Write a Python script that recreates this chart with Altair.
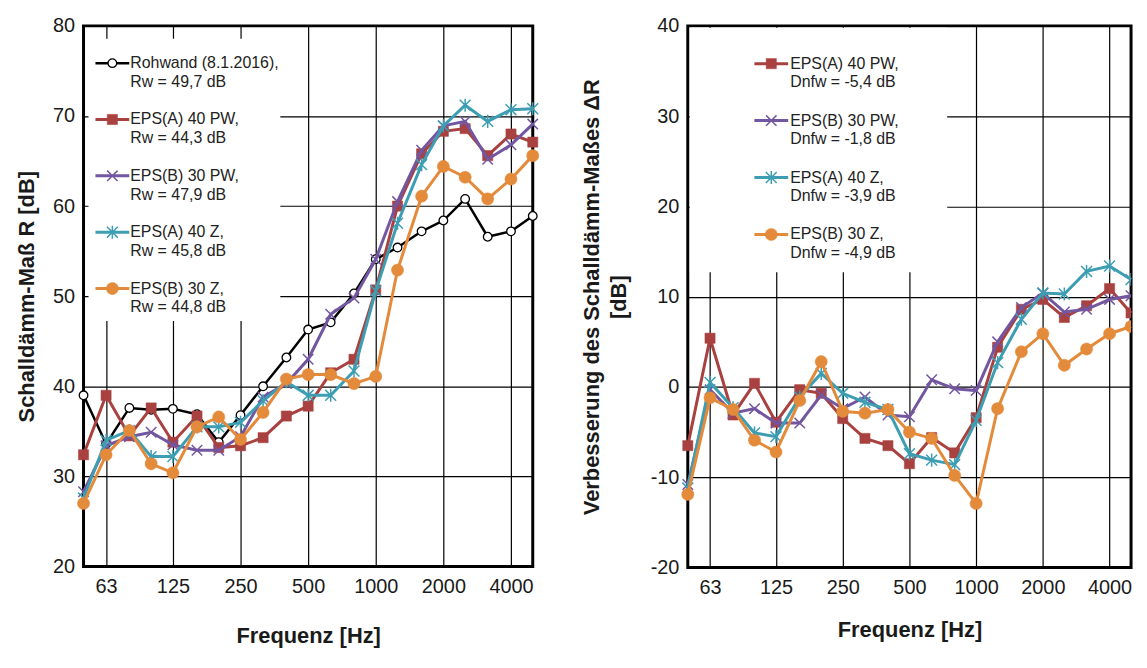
import altair as alt
import pandas as pd

# ---------------- data ----------------
freqs = [50, 63, 80, 100, 125, 160, 200, 250, 315, 400, 500, 630, 800,
         1000, 1250, 1600, 2000, 2500, 3150, 4000, 5000]
tick_freqs = [63, 125, 250, 500, 1000, 2000, 4000]

# Schalldämm-Maß R [dB]
r_rohwand = [39.0, 33.6, 37.6, 37.4, 37.5, 36.9, 33.8, 36.8, 40.0, 43.2, 46.3,
             47.1, 50.3, 54.1, 55.4, 57.2, 58.4, 60.8, 56.6, 57.2, 58.9]
r_a40pw = [32.4, 39.0, 34.5, 37.6, 33.8, 36.7, 33.2, 33.4, 34.3, 36.7, 37.8,
           41.5, 43.0, 50.7, 60.0, 65.8, 68.3, 68.6, 65.6, 68.0, 67.1]
r_b30pw = [28.3, 33.4, 34.4, 34.9, 33.5, 32.9, 32.9, 34.4, 38.8, 40.3, 43.0,
           48.0, 49.8, 54.1, 60.5, 66.2, 68.9, 69.4, 65.2, 66.8, 69.1]
r_a40z = [27.6, 34.0, 35.1, 32.2, 32.2, 35.5, 35.5, 36.0, 38.4, 40.5, 39.0,
          39.0, 41.7, 50.6, 58.1, 64.6, 68.9, 71.2, 69.4, 70.7, 70.8]
r_b30z = [27.0, 32.4, 35.1, 31.4, 30.4, 35.5, 36.6, 34.1, 37.1, 40.8, 41.3,
          41.3, 40.3, 41.1, 52.9, 61.1, 64.4, 63.2, 60.8, 63.0, 65.6]

# Verbesserung des Schalldämm-Maßes ΔR [dB]
d_a40pw = [-6.5, 5.4, -3.1, 0.4, -3.9, -0.3, -0.7, -3.5, -5.7, -6.5, -8.5,
           -5.6, -7.3, -3.4, 4.4, 8.6, 9.7, 7.7, 9.0, 10.9, 8.2]
d_b30pw = [-10.8, -0.3, -2.9, -2.4, -4.0, -4.0, -0.9, -2.4, -1.1, -3.1, -3.3,
           0.8, -0.2, -0.4, 5.0, 8.8, 10.4, 8.3, 8.6, 9.7, 10.1]
d_a40z = [-11.2, 0.5, -2.3, -5.1, -5.5, -1.1, 1.5, -0.7, -1.7, -2.5, -7.4,
          -8.1, -8.6, -3.7, 2.7, 7.5, 10.4, 10.3, 12.8, 13.4, 11.9]
d_b30z = [-11.9, -1.2, -2.5, -5.9, -7.2, -1.5, 2.8, -2.7, -2.9, -2.5, -5.0,
          -5.7, -9.8, -12.9, -2.4, 3.9, 5.9, 2.4, 4.2, 5.9, 6.7]

series_left = ["Rohwand", "EPS(A) 40 PW", "EPS(B) 30 PW", "EPS(A) 40 Z", "EPS(B) 30 Z"]
series_right = ["EPS(A) 40 PW", "EPS(B) 30 PW", "EPS(A) 40 Z", "EPS(B) 30 Z"]
left_values = [r_rohwand, r_a40pw, r_b30pw, r_a40z, r_b30z]
right_values = [d_a40pw, d_b30pw, d_a40z, d_b30z]

legend_left_1 = ["Rohwand (8.1.2016),", "EPS(A) 40 PW,", "EPS(B) 30 PW,", "EPS(A) 40 Z,", "EPS(B) 30 Z,"]
legend_left_2 = ["Rw = 49,7 dB", "Rw = 44,3 dB", "Rw = 47,9 dB", "Rw = 45,8 dB", "Rw = 44,8 dB"]
legend_right_1 = ["EPS(A) 40 PW,", "EPS(B) 30 PW,", "EPS(A) 40 Z,", "EPS(B) 30 Z,"]
legend_right_2 = ["Dnfw = -5,4 dB", "Dnfw = -1,8 dB", "Dnfw = -3,9 dB", "Dnfw = -4,9 dB"]

# ---------------- styles ----------------
FONT = "Liberation Sans"
X_PATH = "M-1,-1L1,1M-1,1L1,-1"
AST_PATH = "M-1,-1L1,1M-1,1L1,-1M0,-1.2L0,1.2"
STYLE = {
    "Rohwand": dict(color="#000000", lw=2.5, shape="circle", size=75, fill="white", sw=1.3),
    "EPS(A) 40 PW": dict(color="#A8413F", lw=3, shape="square", size=105, fill="#A8413F", sw=0.5),
    "EPS(B) 30 PW": dict(color="#7356A0", lw=3, shape=X_PATH, size=110, fill="transparent", sw=1.5),
    "EPS(A) 40 Z": dict(color="#3D9EB3", lw=3, shape=AST_PATH, size=120, fill="transparent", sw=1.5),
    "EPS(B) 30 Z": dict(color="#E38A3B", lw=3, shape="circle", size=150, fill="#E38A3B", sw=0.5),
}


def long_df(names, values):
    rows = []
    for n, vals in zip(names, values):
        for f, v in zip(freqs, vals):
            rows.append({"series": n, "f": f, "v": v})
    return pd.DataFrame(rows)


def panel(names, values, ydom, yvals, ytitle, x_title_pad, ytitle_pad,
          legend_1, legend_2, leg, w, h, clip_last):
    df = long_df(names, values)
    common = dict(grid=True, gridColor="black", gridWidth=1.2, gridOpacity=1,
                  domain=False, ticks=False, labelFontSize=20,
                  labelColor="#1a1a1a", labelFont=FONT, titleFont=FONT,
                  titleFontSize=22, titleFontWeight="bold", titleColor="#1a1a1a")
    xaxis = alt.Axis(values=tick_freqs, format="d", labelFlush=False,
                     labelPadding=10, title="Frequenz [Hz]",
                     titlePadding=x_title_pad, **common)
    yaxis = alt.Axis(values=yvals, labelExpr="datum.value + ''", labelPadding=9,
                     title=ytitle, titlePadding=ytitle_pad, titleLineHeight=27, **common)
    xs = alt.Scale(type="log", domain=[50, 5000], nice=False)
    ys = alt.Scale(domain=ydom, nice=False, zero=False)
    enc = dict(x=alt.X("f:Q", scale=xs), y=alt.Y("v:Q", scale=ys))
    # invisible layer that carries the axes
    layers = [alt.Chart(df).mark_line(strokeOpacity=0).encode(
        x=alt.X("f:Q", scale=xs, axis=xaxis),
        y=alt.Y("v:Q", scale=ys, axis=yaxis),
        detail="series:N")]
    for n in names:
        st = STYLE[n]
        base = alt.Chart(df).transform_filter(alt.datum.series == n)
        layers.append(base.mark_line(color=st["color"], strokeWidth=st["lw"]).encode(**enc))
        pkw = dict(shape=st["shape"], size=st["size"], filled=True, fill=st["fill"],
                   stroke=st["color"], strokeWidth=st["sw"], opacity=1)
        if clip_last:
            layers.append(base.transform_filter(alt.datum.f < 5000)
                          .mark_point(**pkw).encode(**enc))
            layers.append(base.transform_filter(alt.datum.f >= 5000)
                          .mark_point(clip=True, **pkw).encode(**enc))
        else:
            layers.append(base.mark_point(**pkw).encode(**enc))
    # legend (drawn manually inside the plot)
    one = pd.DataFrame({"k": [0]})
    layers.append(alt.Chart(one).mark_rect(fill="white").encode(
        x=alt.value(leg["box"][0]), x2=alt.value(leg["box"][1]),
        y=alt.value(leg["box"][2]), y2=alt.value(leg["box"][3])))
    for k, n in enumerate(names):
        st = STYLE[n]
        yk = leg["y0"] + leg["dy"] * k
        d = pd.DataFrame({"l1": [legend_1[k]], "l2": [legend_2[k]]})
        c = alt.Chart(d)
        layers.append(c.mark_rule(color=st["color"], strokeWidth=st["lw"]).encode(
            x=alt.value(leg["x0"]), x2=alt.value(leg["x1"]), y=alt.value(yk)))
        layers.append(c.mark_point(shape=st["shape"], size=st["size"], filled=True,
                                   fill=st["fill"], stroke=st["color"],
                                   strokeWidth=st["sw"], opacity=1).encode(
            x=alt.value((leg["x0"] + leg["x1"]) / 2), y=alt.value(yk)))
        layers.append(c.mark_text(align="left", baseline="middle", fontSize=16,
                                  font=FONT, color="#222222").encode(
            x=alt.value(leg["tx"]), y=alt.value(yk), text="l1:N"))
        layers.append(c.mark_text(align="left", baseline="middle", fontSize=16,
                                  font=FONT, color="#222222").encode(
            x=alt.value(leg["tx"]), y=alt.value(yk + 19), text="l2:N"))
    return alt.layer(*layers).properties(width=w, height=h)


left = panel(series_left, left_values, [20, 80], [20, 30, 40, 50, 60, 70, 80],
             "Schalldämm-Maß R [dB]", 29, 14, legend_left_1, legend_left_2,
             dict(box=(5, 198, 13, 297), y0=37.5, dy=56.7, x0=12, x1=46, tx=47),
             452, 544, False)

right = panel(series_right, right_values, [-20, 40], [-20, -10, 0, 10, 20, 30, 40],
              ["Verbesserung des Schalldämm-Maßes ΔR", "[dB]"], 22, 20,
              legend_right_1, legend_right_2,
              dict(box=(2, 261, 2, 248), y0=38.0, dy=57.3, x0=67, x1=101, tx=103),
              446, 545, True)

chart = alt.hconcat(left, right, spacing=36).properties(
    padding={"left": 6, "top": 4, "right": 0, "bottom": 0},
    background="white",
).configure_view(stroke="black", strokeWidth=3)

chart.save("out.html", embed_options={"renderer": "svg", "actions": False})
